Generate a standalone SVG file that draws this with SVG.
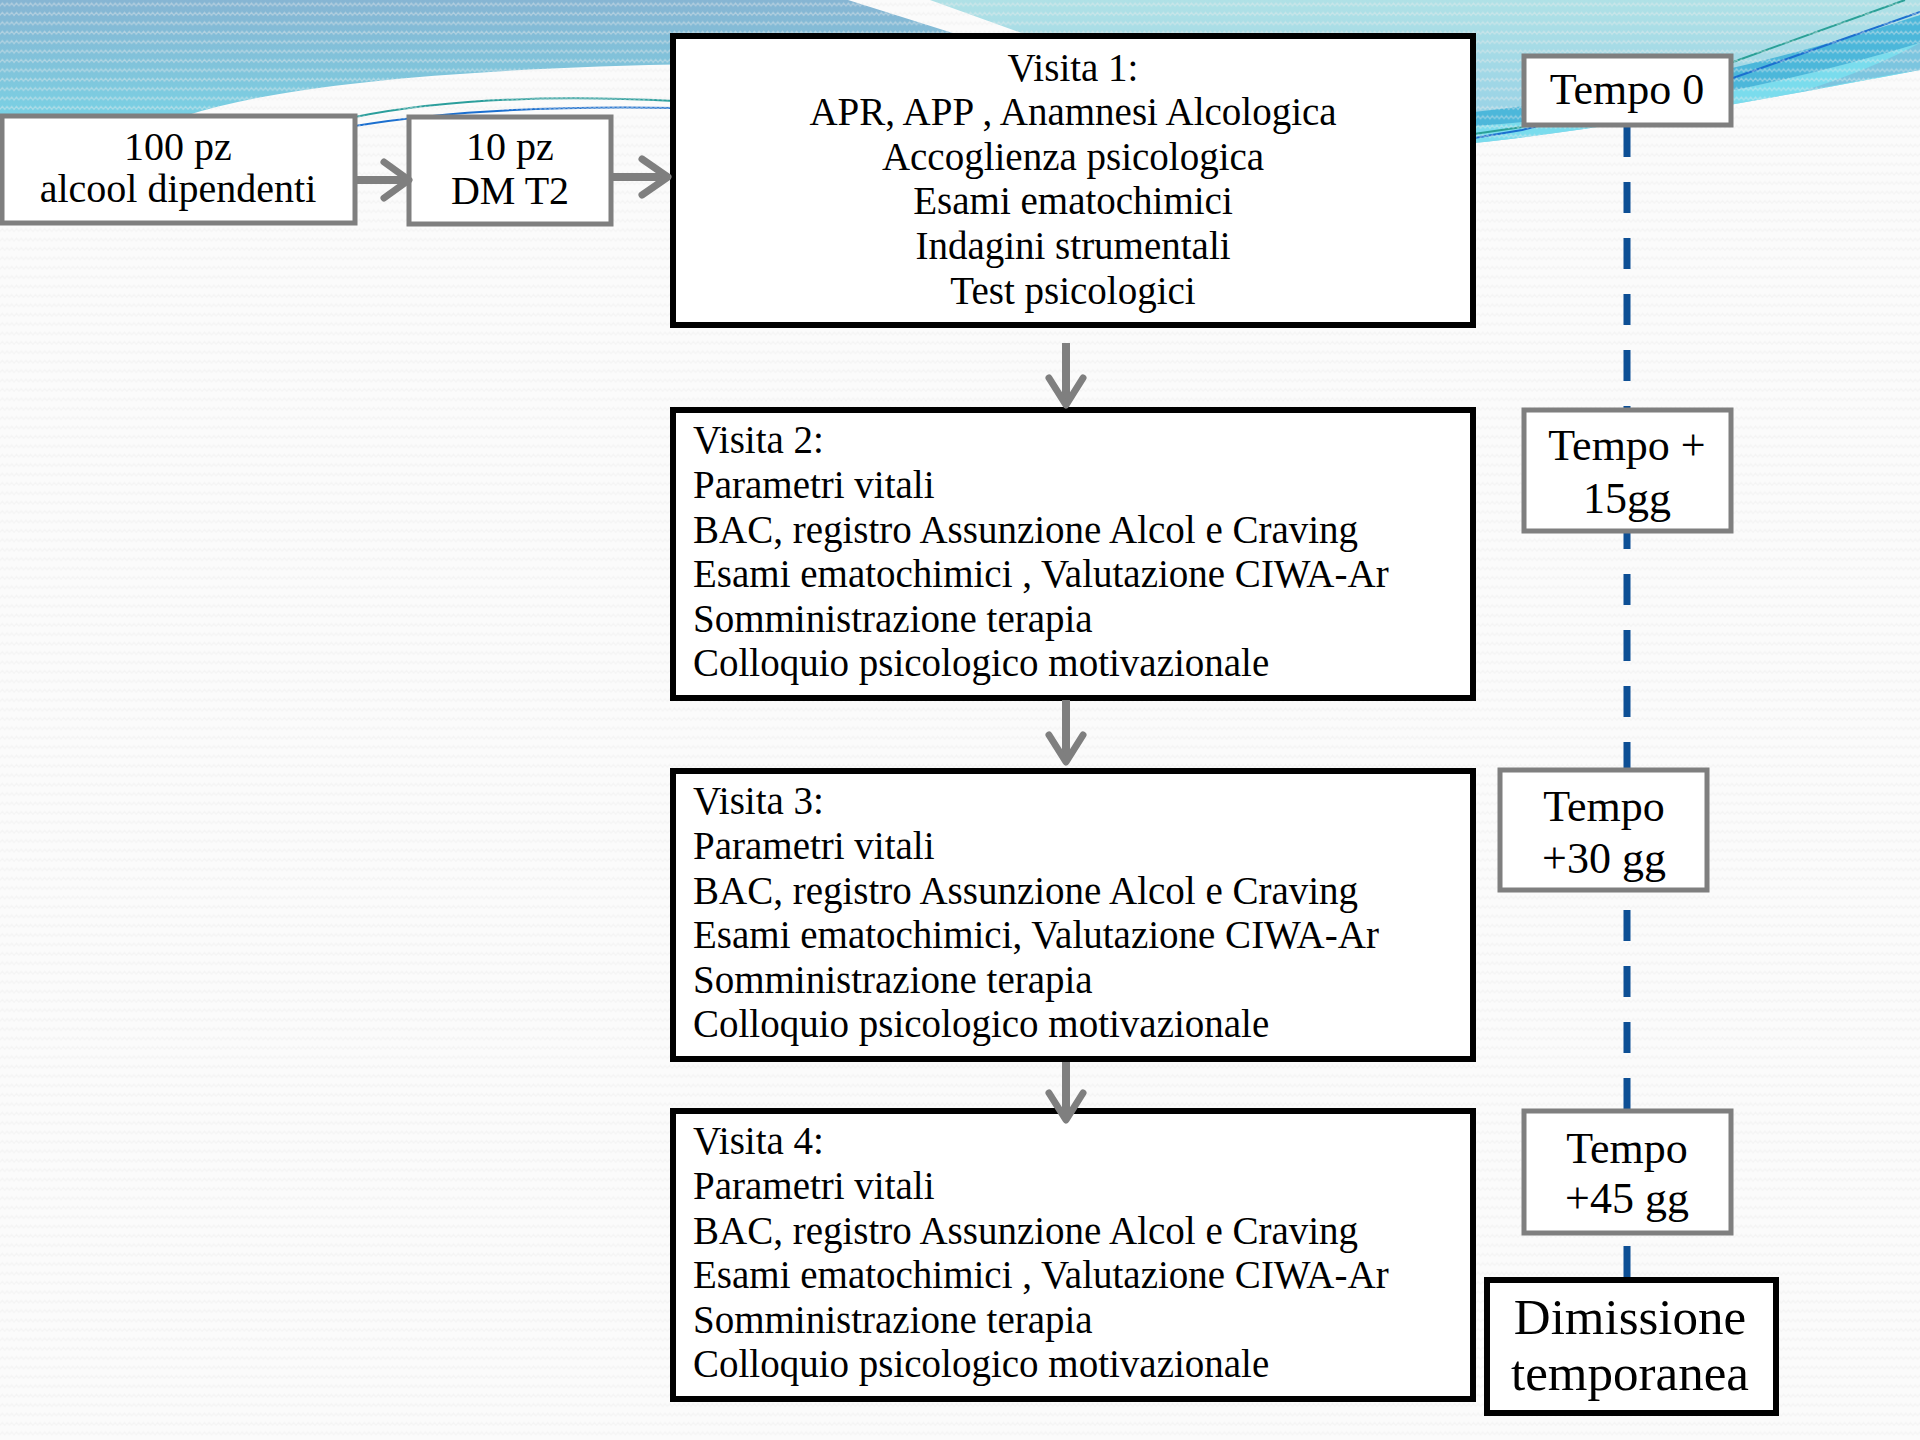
<svg xmlns="http://www.w3.org/2000/svg" width="1920" height="1440" viewBox="0 0 1920 1440">
<defs>
  <pattern id="tex" width="9.4" height="9.4" patternUnits="userSpaceOnUse">
    <path d="M0,6 L2.35,3 L4.7,6 L7.05,3 L9.4,6" fill="none" stroke="#ececec" stroke-width="1.2"/>
  </pattern>
  <linearGradient id="gBlue" x1="0" y1="0" x2="0" y2="1">
    <stop offset="0" stop-color="#86b5d3"/>
    <stop offset="0.55" stop-color="#80c6dc"/>
    <stop offset="1" stop-color="#74d8ea"/>
  </linearGradient>
  <linearGradient id="gTeal" x1="0" y1="0" x2="0" y2="1">
    <stop offset="0" stop-color="#afe1e6"/>
    <stop offset="1" stop-color="#94cfe6"/>
  </linearGradient>
  <style>
    .gbox{fill:#fff;stroke:#7f7f7f;stroke-width:5;}
    .kbox{fill:#fff;stroke:#000;stroke-width:6;}
    .t{font-family:"Liberation Serif","DejaVu Serif",serif;fill:#000;}
    .v{font-size:39px;}
    .c{text-anchor:middle;}
    .arr{fill:none;stroke:#7f7f7f;stroke-width:8;stroke-linecap:butt;}
    .head{fill:none;stroke:#7f7f7f;stroke-width:7;stroke-linecap:round;stroke-linejoin:round;}
  </style>
</defs>

<g id="background">
  <rect x="0" y="0" width="1920" height="1440" fill="#fbfbfb"/>
  <path d="M0,0 H848 L975,40 L700,64 Q250,72 140,135 L0,140 Z" fill="url(#gBlue)"/>
  <path d="M930,0 H1920 V70 C1760,100 1600,130 1474,143 L1474,36 L1030,36 Z" fill="url(#gTeal)"/>
  <path d="M1474,126 Q1700,110 1920,43 V70 C1760,100 1600,130 1474,143 Z" fill="#7adced"/>
  <path d="M1474,112 Q1700,88 1920,15 V43 Q1700,110 1474,126 Z" fill="#4cb7da"/>
  <path d="M1920,43 V70 C1880,76 1840,84 1800,92 Q1870,70 1920,43 Z" fill="#7cc5df"/>
  <path d="M355,117 C450,98 560,95 675,101" fill="none" stroke="#2a9e9c" stroke-width="2"/>
  <path d="M355,126 C450,110 560,106 675,108" fill="none" stroke="#1b6fcf" stroke-width="2"/>
  <path d="M1474,134 L1522,127 L1733,62 L1905,0" fill="none" stroke="#2aa096" stroke-width="2"/>
  <path d="M1474,138 L1522,130 L1733,78 L1920,12" fill="none" stroke="#1b6fcf" stroke-width="2"/>
  <rect x="0" y="0" width="1920" height="1440" fill="url(#tex)" opacity="0.45"/>
</g>

<g id="timeline">
  <line x1="1627" y1="126" x2="1627" y2="1278" stroke="#0d4f95" stroke-width="7" stroke-dasharray="31 25"/>
</g>

<g id="node-100pz">
  <rect class="gbox" x="2" y="116" width="353" height="107"/>
  <text class="t c" x="178" y="160" font-size="40">100 pz</text>
  <text class="t c" x="178" y="202" font-size="40">alcool dipendenti</text>
</g>

<g id="node-10pz">
  <rect class="gbox" x="409" y="117" width="202" height="107"/>
  <text class="t c" x="510" y="160" font-size="40">10 pz</text>
  <text class="t c" x="510" y="204" font-size="40">DM T2</text>
</g>

<g id="node-visita1">
  <rect class="kbox" x="673" y="36" width="800" height="289"/>
  <text class="t v c" x="1073" y="81">Visita 1:</text>
  <text class="t v c" x="1073" y="125">APR, APP , Anamnesi Alcologica</text>
  <text class="t v c" x="1073" y="170">Accoglienza psicologica</text>
  <text class="t v c" x="1073" y="214">Esami ematochimici</text>
  <text class="t v c" x="1073" y="259">Indagini strumentali</text>
  <text class="t v c" x="1073" y="304">Test psicologici</text>
</g>

<g id="node-visita2">
  <rect class="kbox" x="673" y="410" width="800" height="288"/>
  <text class="t v" x="693" y="453">Visita 2:</text>
  <text class="t v" x="693" y="498">Parametri vitali</text>
  <text class="t v" x="693" y="543">BAC, registro Assunzione Alcol e Craving</text>
  <text class="t v" x="693" y="587">Esami ematochimici , Valutazione CIWA-Ar</text>
  <text class="t v" x="693" y="632">Somministrazione terapia</text>
  <text class="t v" x="693" y="676">Colloquio psicologico motivazionale</text>
</g>

<g id="node-visita3">
  <rect class="kbox" x="673" y="771" width="800" height="288"/>
  <text class="t v" x="693" y="814">Visita 3:</text>
  <text class="t v" x="693" y="859">Parametri vitali</text>
  <text class="t v" x="693" y="904">BAC, registro Assunzione Alcol e Craving</text>
  <text class="t v" x="693" y="948">Esami ematochimici, Valutazione CIWA-Ar</text>
  <text class="t v" x="693" y="993">Somministrazione terapia</text>
  <text class="t v" x="693" y="1037">Colloquio psicologico motivazionale</text>
</g>

<g id="node-visita4">
  <rect class="kbox" x="673" y="1111" width="800" height="288"/>
  <text class="t v" x="693" y="1154">Visita 4:</text>
  <text class="t v" x="693" y="1199">Parametri vitali</text>
  <text class="t v" x="693" y="1244">BAC, registro Assunzione Alcol e Craving</text>
  <text class="t v" x="693" y="1288">Esami ematochimici , Valutazione CIWA-Ar</text>
  <text class="t v" x="693" y="1333">Somministrazione terapia</text>
  <text class="t v" x="693" y="1377">Colloquio psicologico motivazionale</text>
</g>

<g id="node-tempo0">
  <rect class="gbox" x="1524" y="56" width="207" height="69"/>
  <text class="t c" x="1627" y="104" font-size="44">Tempo 0</text>
</g>

<g id="node-tempo15">
  <rect class="gbox" x="1524" y="410" width="207" height="121"/>
  <text class="t c" x="1627" y="460" font-size="44">Tempo +</text>
  <text class="t c" x="1627" y="513" font-size="44">15gg</text>
</g>

<g id="node-tempo30">
  <rect class="gbox" x="1500" y="770" width="207" height="120"/>
  <text class="t c" x="1604" y="821" font-size="44">Tempo</text>
  <text class="t c" x="1604" y="873" font-size="44">+30 gg</text>
</g>

<g id="node-tempo45">
  <rect class="gbox" x="1524" y="1111" width="207" height="122"/>
  <text class="t c" x="1627" y="1163" font-size="44">Tempo</text>
  <text class="t c" x="1627" y="1213" font-size="44">+45 gg</text>
</g>

<g id="node-dimissione">
  <rect class="kbox" x="1487" y="1280" width="289" height="133"/>
  <text class="t c" x="1630" y="1334" font-size="51">Dimissione</text>
  <text class="t c" x="1630" y="1390" font-size="51">temporanea</text>
</g>

<g id="connectors">
  <line class="arr" x1="357" y1="180" x2="409" y2="180"/>
  <path class="head" d="M384,162 L409,180 L384,198"/>
  <line class="arr" x1="613" y1="177" x2="668" y2="177"/>
  <path class="head" d="M642,159 L668,177 L642,195"/>
  <line class="arr" x1="1066" y1="343" x2="1066" y2="405"/>
  <path class="head" d="M1049,378 L1066,405 L1083,378"/>
  <line class="arr" x1="1066" y1="700" x2="1066" y2="762"/>
  <path class="head" d="M1049,735 L1066,762 L1083,735"/>
  <line class="arr" x1="1066" y1="1062" x2="1066" y2="1120"/>
  <path class="head" d="M1049,1093 L1066,1120 L1083,1093"/>
</g>
</svg>
